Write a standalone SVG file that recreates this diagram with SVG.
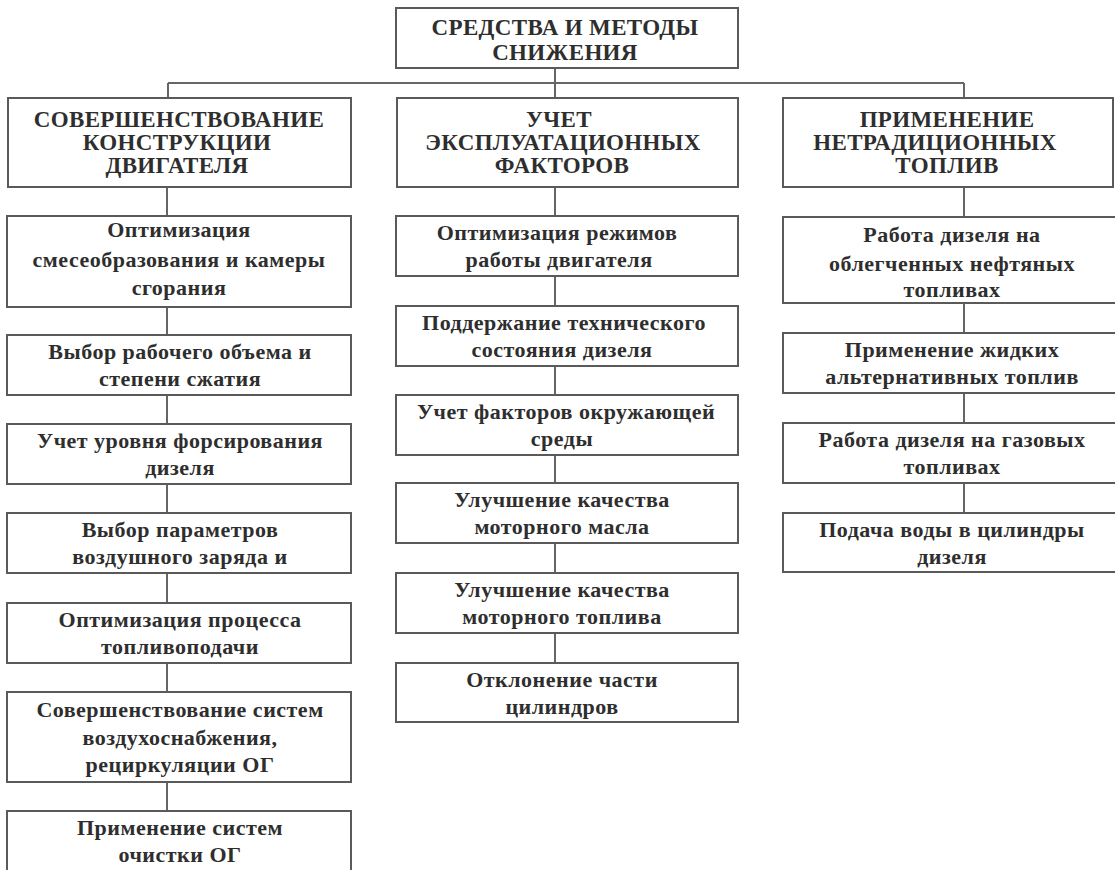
<svg xmlns="http://www.w3.org/2000/svg" width="1115" height="870" viewBox="0 0 1115 870">
<style>
.box{fill:#fff;stroke:#5a5a5a;stroke-width:2}
.ln{stroke:#666;stroke-width:2;fill:none}
.h{font-family:"Liberation Serif","Times New Roman",serif;font-size:23px;font-weight:bold;fill:#2e2e2e;text-anchor:middle;letter-spacing:0.35px}
.t{font-family:"Liberation Serif","Times New Roman",serif;font-size:22px;font-weight:bold;fill:#2e2e2e;text-anchor:middle;letter-spacing:0.5px}
</style>
<rect width="1115" height="870" fill="#fff"/>
<g id="connectors">
<path class="ln" d="M555 68V83M168 83H964M168 83V98M555 83V98M964 83V98"/>
<path class="ln" d="M167 187V216M167 307V335M167 395V424M167 484V513M167 573V603M167 663V692M167 782V811"/>
<path class="ln" d="M555 187V216M555 276V306M555 366V395M555 455V483M555 543V573M555 633V663"/>
<path class="ln" d="M964 187V217M964 303V333M964 393V423M964 483V513"/>
</g>
<g id="root"><rect class="box" x="396" y="8" width="342" height="60"/>
<text class="h" x="565" y="35">СРЕДСТВА И МЕТОДЫ</text><text class="h" x="565" y="60">СНИЖЕНИЯ</text></g>
<g id="h1"><rect class="box" x="8" y="98" width="343" height="89"/>
<text class="h" x="179" y="127">СОВЕРШЕНСТВОВАНИЕ</text><text class="h" x="177" y="150">КОНСТРУКЦИИ</text><text class="h" x="177" y="173">ДВИГАТЕЛЯ</text></g>
<g id="h2"><rect class="box" x="397" y="98" width="341" height="89"/>
<text class="h" x="559" y="127">УЧЕТ</text><text class="h" x="563" y="150">ЭКСПЛУАТАЦИОННЫХ</text><text class="h" x="562" y="173">ФАКТОРОВ</text></g>
<g id="h3"><rect class="box" x="783" y="98" width="330" height="89"/>
<text class="h" x="947" y="127">ПРИМЕНЕНИЕ</text><text class="h" x="935" y="150">НЕТРАДИЦИОННЫХ</text><text class="h" x="947" y="173">ТОПЛИВ</text></g>

<g id="a1"><rect class="box" x="7" y="216" width="344" height="91"/>
<text class="t" x="179" y="237">Оптимизация</text><text class="t" x="179" y="267">смесеобразования и камеры</text><text class="t" x="179" y="295">сгорания</text></g>
<g id="a2"><rect class="box" x="7" y="335" width="344" height="60"/>
<text class="t" x="180" y="359">Выбор рабочего объема и</text><text class="t" x="180" y="386">степени сжатия</text></g>
<g id="a3"><rect class="box" x="7" y="424" width="344" height="60"/>
<text class="t" x="180" y="448">Учет уровня форсирования</text><text class="t" x="180" y="475">дизеля</text></g>
<g id="a4"><rect class="box" x="7" y="513" width="344" height="60"/>
<text class="t" x="180" y="537">Выбор параметров</text><text class="t" x="180" y="564">воздушного заряда и</text></g>
<g id="a5"><rect class="box" x="7" y="603" width="344" height="60"/>
<text class="t" x="180" y="627">Оптимизация процесса</text><text class="t" x="180" y="654">топливоподачи</text></g>
<g id="a6"><rect class="box" x="7" y="692" width="344" height="90"/>
<text class="t" x="180" y="717">Совершенствование систем</text><text class="t" x="180" y="745">воздухоснабжения,</text><text class="t" x="180" y="772">рециркуляции ОГ</text></g>
<g id="a7"><rect class="box" x="7" y="811" width="344" height="70"/>
<text class="t" x="180" y="835">Применение систем</text><text class="t" x="180" y="862">очистки ОГ</text></g>

<g id="b1"><rect class="box" x="396" y="216" width="342" height="60"/>
<text class="t" x="557" y="240">Оптимизация режимов</text><text class="t" x="559" y="267">работы двигателя</text></g>
<g id="b2"><rect class="box" x="396" y="306" width="342" height="60"/>
<text class="t" x="564" y="330">Поддержание технического</text><text class="t" x="562" y="357">состояния дизеля</text></g>
<g id="b3"><rect class="box" x="396" y="395" width="342" height="60"/>
<text class="t" x="566" y="419">Учет факторов окружающей</text><text class="t" x="562" y="446">среды</text></g>
<g id="b4"><rect class="box" x="396" y="483" width="342" height="60"/>
<text class="t" x="562" y="507">Улучшение качества</text><text class="t" x="562" y="534">моторного масла</text></g>
<g id="b5"><rect class="box" x="396" y="573" width="342" height="60"/>
<text class="t" x="562" y="597">Улучшение качества</text><text class="t" x="562" y="624">моторного топлива</text></g>
<g id="b6"><rect class="box" x="396" y="663" width="342" height="59"/>
<text class="t" x="562" y="687">Отклонение части</text><text class="t" x="562" y="714">цилиндров</text></g>

<g id="c1"><rect class="box" x="783" y="217" width="334" height="86"/>
<text class="t" x="952" y="242">Работа дизеля на</text><text class="t" x="952" y="271">облегченных нефтяных</text><text class="t" x="952" y="297">топливах</text></g>
<g id="c2"><rect class="box" x="783" y="333" width="334" height="60"/>
<text class="t" x="952" y="357">Применение жидких</text><text class="t" x="952" y="384">альтернативных топлив</text></g>
<g id="c3"><rect class="box" x="783" y="423" width="334" height="60"/>
<text class="t" x="952" y="447">Работа дизеля на газовых</text><text class="t" x="952" y="474">топливах</text></g>
<g id="c4"><rect class="box" x="783" y="513" width="334" height="59"/>
<text class="t" x="952" y="537">Подача воды в цилиндры</text><text class="t" x="952" y="564">дизеля</text></g>
</svg>
